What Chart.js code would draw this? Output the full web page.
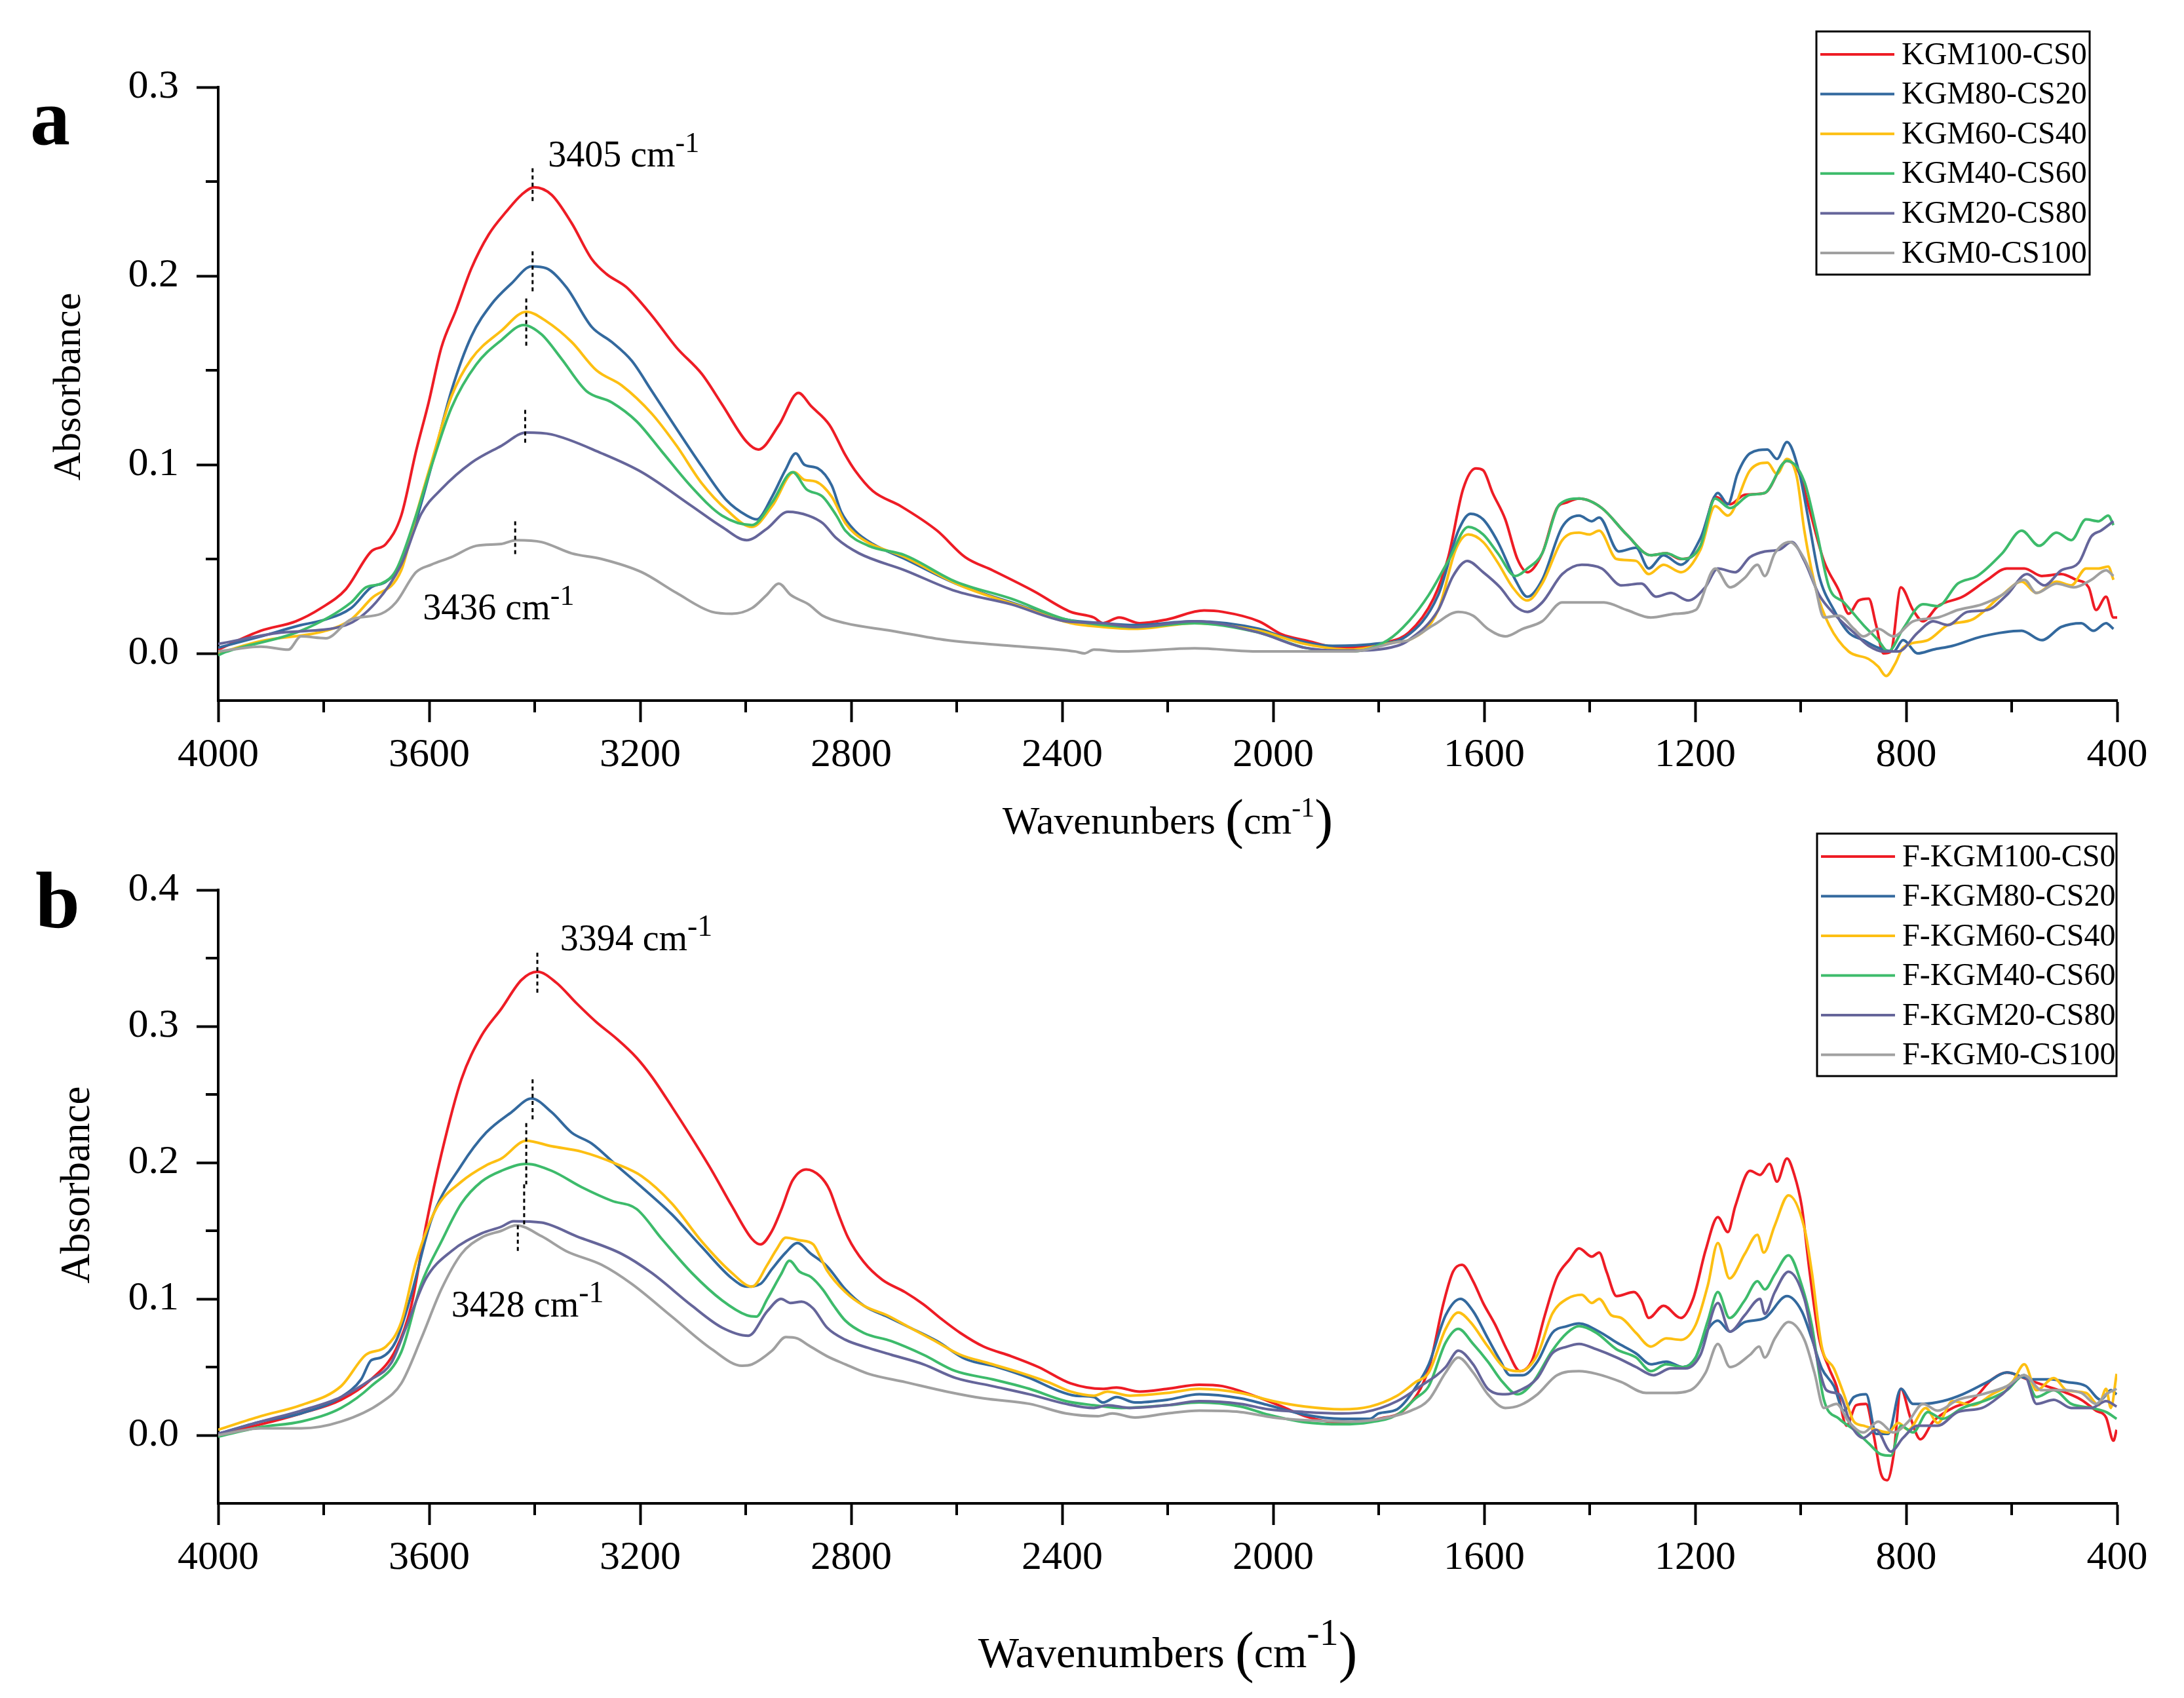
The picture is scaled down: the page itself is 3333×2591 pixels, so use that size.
<!DOCTYPE html>
<html><head><meta charset="utf-8">
<script src="https://cdn.jsdelivr.net/npm/chart.js@4.4.1/dist/chart.umd.min.js"></script>
<style>
html,body{margin:0;padding:0;background:#fff;}
#wrap{position:relative;width:3333px;height:2591px;background:#fff;}
canvas{position:absolute;left:0;}
</style></head><body>
<div id="wrap">
<canvas id="ca" width="3333" height="1295" style="top:0;width:3333px;height:1295px"></canvas>
<canvas id="cb" width="3333" height="1351" style="top:1240px;width:3333px;height:1351px"></canvas>
</div>
<script>
// ---------- DATA ----------
const namesA = ['KGM100-CS0','KGM80-CS20','KGM60-CS40','KGM40-CS60','KGM20-CS80','KGM0-CS100'];
const namesB = ['F-KGM100-CS0','F-KGM80-CS20','F-KGM60-CS40','F-KGM40-CS60','F-KGM20-CS80','F-KGM0-CS100'];
const seriesColors = ['#EE1C25','#33699E','#FDBF12','#3DBB6B','#65659A','#A0A0A0'];
const xTicks = [4000,3600,3200,2800,2400,2000,1600,1200,800,400];
const yTicksA = [0.0,0.1,0.2,0.3];
const yTicksB = [0.0,0.1,0.2,0.3,0.4];

// panel a  [wavenumber, absorbance]
const a_KGM100_CS0 = [[4000,0.002],[3919,0.012],[3853,0.017],[3805,0.024],[3758,0.034],[3710,0.054],[3682,0.058],[3653,0.073],[3625,0.107],[3601,0.133],[3577,0.162],[3549,0.182],[3520,0.204],[3487,0.222],[3454,0.234],[3425,0.243],[3401,0.247],[3368,0.243],[3330,0.228],[3292,0.209],[3264,0.201],[3226,0.194],[3178,0.179],[3131,0.162],[3083,0.148],[3045,0.132],[2998,0.112],[2976,0.108],[2937,0.121],[2900,0.138],[2876,0.131],[2841,0.121],[2811,0.105],[2793,0.097],[2759,0.086],[2706,0.078],[2637,0.065],[2584,0.051],[2532,0.044],[2454,0.033],[2384,0.022],[2340,0.019],[2323,0.016],[2292,0.019],[2253,0.016],[2201,0.018],[2131,0.0227],[2096,0.022],[2027,0.017],[1983,0.010],[1940,0.007],[1870,0.003],[1783,0.006],[1743,0.011],[1696,0.029],[1668,0.051],[1640,0.087],[1616,0.098],[1602,0.097],[1584,0.085],[1560,0.071],[1537,0.050],[1518,0.043],[1490,0.053],[1462,0.077],[1443,0.080],[1420,0.082],[1377,0.077],[1330,0.063],[1284,0.052],[1255,0.053],[1227,0.050],[1190,0.057],[1162,0.083],[1134,0.079],[1106,0.084],[1068,0.085],[1026,0.102],[1002,0.095],[984,0.077],[956,0.049],[927,0.033],[909,0.021],[890,0.028],[871,0.029],[857,0.015],[843,0.000],[829,0.001],[810,0.035],[787,0.023],[768,0.017],[740,0.025],[693,0.030],[646,0.039],[609,0.045],[576,0.045],[543,0.041],[506,0.042],[478,0.039],[454,0.035],[440,0.023],[421,0.030],[407,0.019],[400,0.019]];
const a_KGM80_CS20 = [[4000,0.003],[3919,0.009],[3843,0.015],[3796,0.018],[3748,0.024],[3710,0.035],[3682,0.038],[3653,0.047],[3625,0.070],[3596,0.099],[3558,0.139],[3520,0.168],[3482,0.185],[3444,0.196],[3406,0.205],[3378,0.204],[3340,0.194],[3292,0.173],[3254,0.165],[3216,0.155],[3178,0.139],[3131,0.119],[3083,0.099],[3036,0.081],[2998,0.073],[2979,0.071],[2950,0.083],[2925,0.097],[2905,0.106],[2889,0.100],[2863,0.098],[2837,0.089],[2819,0.075],[2793,0.065],[2759,0.058],[2698,0.050],[2602,0.037],[2497,0.027],[2393,0.018],[2323,0.016],[2262,0.015],[2149,0.017],[2027,0.013],[1983,0.009],[1887,0.004],[1809,0.005],[1748,0.009],[1687,0.031],[1649,0.065],[1626,0.074],[1602,0.071],[1574,0.059],[1541,0.039],[1518,0.030],[1490,0.039],[1452,0.067],[1420,0.073],[1396,0.070],[1382,0.072],[1345,0.054],[1312,0.056],[1288,0.045],[1260,0.052],[1227,0.047],[1190,0.061],[1157,0.085],[1138,0.079],[1120,0.095],[1096,0.106],[1063,0.108],[1045,0.103],[1026,0.112],[1002,0.095],[984,0.069],[965,0.041],[937,0.023],[909,0.011],[881,0.007],[853,0.003],[824,0.001],[806,0.007],[778,0.000],[749,0.002],[712,0.004],[656,0.009],[581,0.012],[543,0.007],[506,0.014],[468,0.016],[445,0.012],[421,0.016],[407,0.013]];
const a_KGM60_CS40 = [[4000,0.000],[3919,0.0065],[3796,0.012],[3748,0.018],[3710,0.029],[3653,0.044],[3625,0.073],[3596,0.101],[3558,0.136],[3520,0.156],[3463,0.171],[3416,0.181],[3378,0.176],[3330,0.165],[3283,0.150],[3235,0.142],[3178,0.127],[3131,0.110],[3083,0.090],[3036,0.076],[2988,0.067],[2950,0.078],[2908,0.096],[2889,0.092],[2867,0.091],[2837,0.083],[2811,0.069],[2776,0.060],[2698,0.051],[2593,0.036],[2480,0.025],[2384,0.016],[2323,0.014],[2262,0.013],[2149,0.016],[2027,0.012],[1940,0.005],[1852,0.002],[1765,0.006],[1743,0.007],[1687,0.023],[1654,0.055],[1630,0.063],[1602,0.059],[1574,0.048],[1546,0.035],[1518,0.028],[1490,0.037],[1452,0.060],[1420,0.064],[1401,0.063],[1382,0.065],[1349,0.050],[1312,0.049],[1288,0.042],[1260,0.047],[1227,0.043],[1190,0.055],[1162,0.078],[1138,0.073],[1096,0.097],[1063,0.101],[1045,0.095],[1026,0.103],[1007,0.093],[993,0.065],[970,0.033],[946,0.015],[909,0.001],[871,-0.003],[853,-0.007],[838,-0.012],[820,-0.005],[806,0.003],[759,0.007],[721,0.015],[674,0.018],[618,0.031],[581,0.038],[553,0.032],[515,0.038],[487,0.036],[459,0.045],[435,0.045],[417,0.046],[407,0.039]];
const a_KGM40_CS60 = [[4000,-0.001],[3986,0.0007],[3843,0.012],[3748,0.027],[3720,0.035],[3691,0.037],[3663,0.044],[3625,0.073],[3596,0.099],[3558,0.130],[3511,0.153],[3463,0.166],[3421,0.174],[3387,0.169],[3349,0.156],[3302,0.139],[3254,0.133],[3207,0.123],[3159,0.107],[3102,0.088],[3045,0.073],[2988,0.068],[2950,0.080],[2911,0.096],[2885,0.087],[2854,0.083],[2828,0.073],[2811,0.065],[2767,0.057],[2698,0.052],[2602,0.038],[2497,0.029],[2393,0.018],[2323,0.015],[2262,0.014],[2149,0.016],[2027,0.011],[1940,0.003],[1852,0.001],[1783,0.007],[1743,0.017],[1705,0.031],[1668,0.049],[1630,0.067],[1602,0.063],[1574,0.053],[1541,0.041],[1518,0.045],[1490,0.053],[1457,0.079],[1420,0.082],[1377,0.077],[1330,0.063],[1284,0.052],[1255,0.053],[1223,0.050],[1190,0.057],[1162,0.082],[1134,0.077],[1096,0.084],[1068,0.085],[1026,0.102],[993,0.091],[970,0.065],[946,0.035],[918,0.027],[881,0.015],[853,0.007],[834,0.001],[806,0.013],[768,0.026],[740,0.025],[702,0.037],[665,0.041],[618,0.053],[581,0.065],[548,0.057],[515,0.064],[487,0.060],[459,0.071],[435,0.070],[417,0.073],[407,0.068]];
const a_KGM20_CS80 = [[4000,0.005],[3881,0.011],[3758,0.015],[3701,0.027],[3653,0.047],[3615,0.074],[3577,0.087],[3520,0.101],[3463,0.110],[3416,0.117],[3368,0.116],[3273,0.106],[3197,0.096],[3102,0.078],[3045,0.067],[2998,0.060],[2960,0.066],[2920,0.075],[2881,0.073],[2854,0.069],[2828,0.061],[2785,0.053],[2698,0.044],[2602,0.033],[2497,0.026],[2393,0.017],[2323,0.016],[2262,0.014],[2149,0.017],[2027,0.011],[1940,0.003],[1852,0.0015],[1765,0.004],[1743,0.007],[1687,0.023],[1659,0.041],[1632,0.049],[1602,0.043],[1570,0.035],[1541,0.025],[1518,0.022],[1490,0.027],[1452,0.042],[1415,0.047],[1377,0.045],[1340,0.036],[1302,0.037],[1274,0.030],[1246,0.032],[1213,0.028],[1181,0.035],[1157,0.045],[1124,0.043],[1096,0.051],[1068,0.054],[1040,0.055],[1017,0.059],[993,0.049],[965,0.031],[937,0.021],[899,0.011],[871,0.004],[843,0.001],[815,0.001],[778,0.011],[749,0.017],[721,0.015],[684,0.022],[646,0.023],[609,0.031],[571,0.042],[538,0.036],[506,0.044],[473,0.048],[449,0.062],[431,0.065],[407,0.070]];
const a_KGM0_CS100 = [[4000,0.001],[3919,0.0036],[3867,0.002],[3843,0.009],[3796,0.008],[3748,0.018],[3691,0.021],[3663,0.027],[3625,0.043],[3596,0.047],[3558,0.051],[3511,0.057],[3463,0.058],[3435,0.060],[3387,0.059],[3330,0.053],[3273,0.050],[3197,0.043],[3131,0.032],[3064,0.022],[3026,0.021],[2988,0.024],[2960,0.031],[2937,0.037],[2915,0.031],[2881,0.026],[2854,0.020],[2811,0.016],[2724,0.012],[2619,0.007],[2497,0.004],[2375,0.001],[2358,0.000],[2340,0.002],[2288,0.001],[2149,0.0027],[2027,0.001],[1852,0.001],[1765,0.006],[1743,0.007],[1696,0.015],[1649,0.022],[1621,0.020],[1593,0.013],[1560,0.009],[1527,0.013],[1490,0.017],[1452,0.027],[1415,0.027],[1373,0.027],[1330,0.023],[1284,0.019],[1237,0.021],[1199,0.023],[1162,0.045],[1134,0.035],[1106,0.040],[1082,0.047],[1068,0.041],[1049,0.053],[1021,0.059],[993,0.050],[974,0.037],[956,0.019],[927,0.020],[899,0.013],[881,0.009],[853,0.013],[824,0.009],[787,0.017],[740,0.019],[702,0.023],[656,0.026],[618,0.031],[576,0.039],[553,0.032],[515,0.037],[482,0.035],[449,0.039],[421,0.044],[407,0.041]];

// panel b  [wavenumber, absorbance]
const b_KGM100_CS0 = [[4000,0.001],[3919,0.008],[3843,0.016],[3767,0.026],[3710,0.041],[3663,0.063],[3634,0.095],[3606,0.154],[3577,0.206],[3539,0.261],[3501,0.293],[3463,0.313],[3425,0.334],[3395,0.340],[3359,0.332],[3321,0.317],[3283,0.303],[3245,0.291],[3207,0.277],[3178,0.263],[3140,0.241],[3102,0.218],[3064,0.194],[3026,0.168],[2988,0.144],[2972,0.140],[2950,0.150],[2933,0.165],[2911,0.187],[2885,0.195],[2859,0.190],[2841,0.180],[2824,0.162],[2806,0.145],[2776,0.127],[2741,0.114],[2698,0.105],[2663,0.096],[2628,0.085],[2593,0.075],[2549,0.065],[2497,0.058],[2445,0.050],[2384,0.038],[2323,0.034],[2297,0.035],[2253,0.032],[2201,0.034],[2140,0.037],[2096,0.036],[2044,0.030],[1983,0.021],[1940,0.014],[1896,0.010],[1844,0.009],[1800,0.012],[1748,0.020],[1705,0.049],[1677,0.097],[1659,0.120],[1642,0.125],[1621,0.113],[1602,0.097],[1579,0.081],[1556,0.062],[1532,0.047],[1509,0.055],[1485,0.088],[1462,0.116],[1438,0.129],[1420,0.137],[1396,0.131],[1382,0.134],[1368,0.120],[1349,0.102],[1316,0.105],[1302,0.099],[1288,0.086],[1260,0.095],[1227,0.086],[1204,0.100],[1180,0.136],[1157,0.160],[1138,0.149],[1124,0.168],[1096,0.194],[1077,0.191],[1059,0.199],[1045,0.186],[1026,0.203],[1012,0.191],[998,0.168],[984,0.123],[965,0.071],[946,0.049],[932,0.036],[913,0.007],[895,0.022],[876,0.023],[862,0.001],[848,-0.028],[836,-0.033],[824,-0.015],[810,0.034],[792,0.013],[773,-0.003],[749,0.010],[712,0.020],[674,0.026],[637,0.041],[609,0.046],[571,0.041],[534,0.036],[496,0.031],[468,0.026],[440,0.018],[421,0.013],[407,-0.004],[401,0.004]];
const b_KGM80_CS20 = [[4000,0.001],[3919,0.010],[3843,0.016],[3767,0.028],[3729,0.041],[3710,0.055],[3691,0.057],[3663,0.069],[3634,0.103],[3596,0.158],[3539,0.198],[3492,0.222],[3444,0.237],[3406,0.247],[3368,0.237],[3330,0.222],[3292,0.214],[3245,0.198],[3197,0.182],[3140,0.162],[3083,0.138],[3026,0.115],[2998,0.109],[2972,0.111],[2950,0.122],[2924,0.134],[2902,0.141],[2876,0.133],[2846,0.124],[2811,0.107],[2776,0.095],[2732,0.087],[2689,0.079],[2637,0.069],[2584,0.056],[2523,0.050],[2462,0.042],[2410,0.033],[2375,0.029],[2340,0.028],[2323,0.024],[2297,0.028],[2262,0.024],[2201,0.026],[2140,0.030],[2062,0.027],[2009,0.022],[1940,0.015],[1870,0.012],[1817,0.012],[1800,0.016],[1765,0.019],[1730,0.035],[1705,0.052],[1673,0.088],[1645,0.100],[1621,0.091],[1593,0.071],[1570,0.055],[1551,0.044],[1527,0.044],[1499,0.054],[1471,0.075],[1443,0.080],[1420,0.082],[1382,0.076],[1349,0.068],[1312,0.060],[1284,0.052],[1255,0.054],[1223,0.050],[1199,0.057],[1180,0.075],[1157,0.084],[1134,0.076],[1106,0.083],[1068,0.086],[1026,0.102],[998,0.091],[979,0.071],[960,0.049],[937,0.036],[918,0.018],[899,0.028],[876,0.030],[857,0.001],[834,0.001],[810,0.034],[787,0.023],[768,0.023],[731,0.025],[693,0.030],[646,0.039],[609,0.046],[562,0.041],[524,0.041],[496,0.039],[459,0.036],[431,0.026],[412,0.033],[401,0.030]];
const b_KGM60_CS40 = [[4000,0.004],[3919,0.014],[3843,0.022],[3767,0.036],[3720,0.059],[3682,0.065],[3653,0.083],[3625,0.127],[3587,0.166],[3539,0.186],[3492,0.198],[3463,0.203],[3416,0.216],[3368,0.212],[3311,0.208],[3245,0.199],[3197,0.190],[3140,0.170],[3083,0.142],[3026,0.119],[2988,0.109],[2959,0.125],[2942,0.136],[2924,0.145],[2898,0.143],[2872,0.140],[2859,0.131],[2846,0.121],[2811,0.105],[2776,0.095],[2732,0.088],[2689,0.079],[2645,0.070],[2593,0.059],[2541,0.053],[2480,0.046],[2427,0.039],[2384,0.032],[2340,0.029],[2314,0.032],[2271,0.029],[2201,0.031],[2140,0.034],[2062,0.031],[2000,0.025],[1940,0.021],[1870,0.019],[1817,0.021],[1765,0.029],[1730,0.039],[1705,0.046],[1673,0.078],[1649,0.090],[1626,0.083],[1593,0.065],[1560,0.049],[1532,0.047],[1499,0.059],[1471,0.089],[1443,0.100],[1415,0.103],[1396,0.097],[1382,0.100],[1359,0.088],[1340,0.086],[1312,0.075],[1284,0.065],[1255,0.071],[1227,0.070],[1199,0.081],[1176,0.110],[1157,0.141],[1135,0.115],[1106,0.133],[1082,0.147],[1070,0.134],[1049,0.154],[1023,0.176],[993,0.152],[979,0.120],[960,0.065],[937,0.049],[918,0.030],[899,0.010],[881,0.007],[857,0.004],[834,0.002],[815,0.009],[796,0.004],[763,0.020],[740,0.009],[712,0.025],[674,0.022],[637,0.030],[599,0.039],[576,0.052],[553,0.033],[520,0.042],[496,0.033],[459,0.031],[435,0.022],[421,0.034],[412,0.020],[401,0.045]];
const b_KGM40_CS60 = [[4000,-0.001],[3919,0.006],[3843,0.010],[3767,0.020],[3710,0.036],[3653,0.061],[3615,0.111],[3577,0.142],[3539,0.170],[3501,0.186],[3463,0.194],[3416,0.199],[3368,0.194],[3311,0.182],[3254,0.172],[3207,0.166],[3159,0.144],[3102,0.119],[3045,0.099],[2998,0.088],[2980,0.087],[2959,0.100],[2933,0.118],[2917,0.128],[2898,0.120],[2876,0.116],[2854,0.107],[2833,0.095],[2811,0.084],[2776,0.075],[2724,0.069],[2663,0.059],[2602,0.047],[2532,0.041],[2462,0.034],[2393,0.025],[2340,0.022],[2288,0.020],[2201,0.022],[2140,0.024],[2062,0.021],[2009,0.015],[1940,0.0095],[1870,0.008],[1817,0.0095],[1765,0.015],[1730,0.027],[1705,0.036],[1673,0.068],[1649,0.078],[1621,0.067],[1593,0.054],[1565,0.039],[1537,0.030],[1509,0.038],[1471,0.062],[1443,0.075],[1420,0.080],[1387,0.075],[1349,0.063],[1312,0.057],[1284,0.047],[1255,0.052],[1223,0.050],[1199,0.057],[1176,0.084],[1157,0.105],[1135,0.086],[1106,0.099],[1082,0.113],[1068,0.107],[1049,0.118],[1023,0.132],[998,0.110],[979,0.081],[956,0.026],[927,0.012],[899,0.004],[871,-0.006],[848,-0.014],[829,-0.015],[810,0.007],[787,0.002],[759,0.017],[731,0.012],[693,0.020],[646,0.026],[609,0.033],[576,0.044],[553,0.028],[520,0.033],[487,0.023],[449,0.020],[421,0.017],[401,0.012]];
const b_KGM20_CS80 = [[4000,0.001],[3919,0.010],[3843,0.018],[3767,0.028],[3710,0.041],[3672,0.053],[3644,0.079],[3606,0.115],[3558,0.135],[3501,0.148],[3463,0.153],[3440,0.157],[3387,0.156],[3321,0.146],[3235,0.133],[3178,0.119],[3102,0.095],[3045,0.079],[2995,0.073],[2959,0.091],[2933,0.100],[2915,0.097],[2894,0.098],[2872,0.093],[2846,0.079],[2811,0.070],[2767,0.064],[2724,0.059],[2663,0.052],[2602,0.042],[2532,0.036],[2462,0.030],[2393,0.023],[2340,0.020],[2314,0.022],[2271,0.020],[2201,0.022],[2140,0.025],[2062,0.023],[2009,0.019],[1940,0.017],[1870,0.016],[1826,0.017],[1765,0.025],[1713,0.038],[1690,0.044],[1673,0.050],[1649,0.062],[1621,0.052],[1593,0.034],[1560,0.030],[1532,0.033],[1499,0.042],[1471,0.060],[1443,0.065],[1420,0.067],[1387,0.063],[1349,0.057],[1312,0.050],[1279,0.044],[1246,0.049],[1218,0.049],[1190,0.059],[1157,0.097],[1134,0.076],[1106,0.088],[1077,0.100],[1068,0.089],[1049,0.105],[1023,0.120],[993,0.100],[974,0.065],[951,0.033],[927,0.030],[904,0.007],[881,-0.002],[857,0.004],[829,-0.012],[806,-0.002],[778,0.007],[740,0.007],[702,0.017],[656,0.020],[618,0.030],[576,0.044],[553,0.023],[520,0.026],[487,0.020],[449,0.020],[421,0.025],[401,0.021]];
const b_KGM0_CS100 = [[4000,0.000],[3919,0.005],[3843,0.005],[3767,0.010],[3691,0.024],[3653,0.038],[3615,0.071],[3577,0.107],[3539,0.133],[3501,0.145],[3463,0.150],[3435,0.154],[3387,0.146],[3340,0.135],[3273,0.125],[3216,0.111],[3140,0.087],[3064,0.063],[3007,0.051],[2988,0.052],[2950,0.062],[2924,0.072],[2902,0.071],[2881,0.066],[2846,0.058],[2811,0.052],[2767,0.045],[2698,0.039],[2619,0.032],[2549,0.027],[2462,0.023],[2393,0.016],[2332,0.014],[2305,0.016],[2262,0.013],[2201,0.016],[2140,0.018],[2062,0.017],[2000,0.013],[1940,0.011],[1852,0.010],[1783,0.013],[1739,0.018],[1705,0.026],[1673,0.046],[1649,0.057],[1621,0.046],[1593,0.030],[1560,0.020],[1532,0.022],[1499,0.030],[1462,0.044],[1420,0.047],[1387,0.045],[1340,0.039],[1293,0.031],[1246,0.031],[1209,0.033],[1180,0.046],[1157,0.067],[1134,0.050],[1096,0.059],[1079,0.065],[1068,0.057],[1049,0.071],[1023,0.083],[993,0.070],[974,0.046],[956,0.020],[932,0.023],[909,0.010],[881,0.002],[853,0.010],[824,0.002],[796,0.010],[768,0.023],[740,0.018],[702,0.026],[656,0.030],[609,0.036],[576,0.044],[543,0.033],[506,0.033],[468,0.031],[440,0.023],[421,0.030],[401,0.034]];

const seriesA = [a_KGM100_CS0,a_KGM80_CS20,a_KGM60_CS40,a_KGM40_CS60,a_KGM20_CS80,a_KGM0_CS100];
const seriesB = [b_KGM100_CS0,b_KGM80_CS20,b_KGM60_CS40,b_KGM40_CS60,b_KGM20_CS80,b_KGM0_CS100];

// peak annotations: [wavenumber, y from, y to]
const peakMarksA = [[3404,0.257,0.238],[3404,0.213,0.191],[3416,0.188,0.162],[3418,0.129,0.110],[3437,0.070,0.052]];
const peakMarksB = [[3395,0.354,0.323],[3404,0.261,0.231],[3416,0.229,0.184],[3420,0.184,0.154],[3432,0.154,0.135]];
const peakLabelsA = [['3405 cm','-1',3375,0.258],['3436 cm','-1',3612,0.018]];
const peakLabelsB = [['3394 cm','-1',3352,0.356],['3428 cm','-1',3558,0.087]];

// ---------- RENDER ----------
const FONT = '"Liberation Serif", "Times New Roman", serif';

function drawRuns(ctx, runs, x, baseline, align) {
  let total = 0;
  runs.forEach(r => { ctx.font = (r.bold?'bold ':'') + r.size + 'px ' + FONT; r.w = ctx.measureText(r.t).width; total += r.w; });
  let cx = align === 'center' ? x - total/2 : x;
  ctx.textAlign = 'left'; ctx.textBaseline = 'alphabetic';
  runs.forEach(r => { ctx.font = (r.bold?'bold ':'') + r.size + 'px ' + FONT; ctx.fillText(r.t, cx, baseline - (r.raise||0)); cx += r.w; });
}

function makeChart(id, spec) {
  const datasets = spec.series.map((s, i) => ({
    label: spec.names[i],
    data: s.map(p => ({x: p[0], y: p[1]})),
    borderColor: seriesColors[i],
    borderWidth: 4,
    pointRadius: 0,
    fill: false,
    cubicInterpolationMode: 'monotone',
    order: 5 - i
  }));
  const deco = {
    id: 'deco_' + id,
    afterDraw(chart) {
      const ctx = chart.ctx, xs = chart.scales.x, ys = chart.scales.y, ca = chart.chartArea;
      ctx.save();
      ctx.fillStyle = '#000'; ctx.strokeStyle = '#000';
      // minor ticks
      ctx.lineWidth = 4;
      ctx.beginPath();
      for (let w = 600; w < 4000; w += 400) { const px = xs.getPixelForValue(w); ctx.moveTo(px, ca.bottom); ctx.lineTo(px, ca.bottom + 18); }
      spec.yMinor.forEach(v => { const py = ys.getPixelForValue(v); ctx.moveTo(ca.left, py); ctx.lineTo(ca.left - 19, py); });
      ctx.stroke();
      // panel letter
      drawRuns(ctx, [{t: spec.letter, size: 122, bold: true}], spec.letterPos[0], spec.letterPos[1], 'left');
      // y title
      ctx.save();
      ctx.translate(spec.yTitle[0], spec.yTitle[1]);
      ctx.rotate(-Math.PI/2);
      ctx.font = spec.yTitle[2] + 'px ' + FONT; ctx.textAlign = 'center'; ctx.textBaseline = 'alphabetic';
      ctx.fillText('Absorbance', 0, 0);
      ctx.restore();
      // x title
      const xt = spec.xTitle;
      drawRuns(ctx, [
        {t: xt.text + ' ', size: xt.size},
        {t: '(', size: xt.paren, raise: -6},
        {t: 'cm', size: xt.size},
        {t: '-1', size: xt.sup, raise: xt.raise},
        {t: ')', size: xt.paren, raise: -6}
      ], (ca.left + ca.right)/2, ca.bottom + xt.dy, 'center');
      // peak markers
      ctx.lineWidth = 3; ctx.setLineDash([6, 5]);
      ctx.beginPath();
      spec.marks.forEach(m => { const px = xs.getPixelForValue(m[0]); ctx.moveTo(px, ys.getPixelForValue(m[1])); ctx.lineTo(px, ys.getPixelForValue(m[2])); });
      ctx.stroke();
      ctx.setLineDash([]);
      spec.labels.forEach(l => {
        drawRuns(ctx, [{t: l[0], size: 56}, {t: l[1], size: spec.annSup, raise: 22}], xs.getPixelForValue(l[2]), ys.getPixelForValue(l[3]), 'left');
      });
      // legend
      const L = spec.legend;
      ctx.lineWidth = 3;
      ctx.strokeRect(L.x, L.y, L.w, L.h);
      spec.names.forEach((n, i) => {
        const yy = L.row0 + i * L.step;
        ctx.strokeStyle = seriesColors[i]; ctx.lineWidth = 4;
        ctx.beginPath(); ctx.moveTo(L.x + 6, yy); ctx.lineTo(L.x + 119, yy); ctx.stroke();
        ctx.fillStyle = '#000';
        ctx.font = '48px ' + FONT; ctx.textAlign = 'left'; ctx.textBaseline = 'middle';
        ctx.fillText(n, L.x + 130, yy + 2);
      });
      ctx.restore();
    }
  };
  return new Chart(document.getElementById(id), {
    type: 'line',
    data: {datasets},
    options: {
      responsive: false, animation: false, devicePixelRatio: 1,
      layout: {padding: {left: 0, right: 102, top: spec.padTop, bottom: 0}},
      plugins: {legend: {display: false}, tooltip: {enabled: false}, title: {display: false}},
      elements: {line: {tension: 0.4}},
      scales: {
        x: {
          type: 'linear', reverse: true, min: 400, max: 4000,
          afterBuildTicks: s => { s.ticks = xTicks.map(v => ({value: v})); },
          afterFit: s => { s.height = spec.xHeight; },
          ticks: {autoSkip: false, maxRotation: 0, padding: 14, color: '#000', font: {family: FONT, size: 62}, callback: v => String(v)},
          grid: {drawOnChartArea: false, drawTicks: true, tickLength: 33, tickWidth: 4, tickColor: '#000'},
          border: {display: true, color: '#000', width: 4}
        },
        y: {
          type: 'linear', min: spec.yMin, max: spec.yMax,
          afterBuildTicks: s => { s.ticks = spec.yTicks.map(v => ({value: v})); },
          afterFit: s => { s.width = 333; },
          ticks: {padding: 27, color: '#000', font: {family: FONT, size: 62}, callback: v => Number(v).toFixed(1)},
          grid: {drawOnChartArea: false, drawTicks: true, tickLength: 33, tickWidth: 4, tickColor: '#000'},
          border: {display: true, color: '#000', width: 4}
        }
      }
    },
    plugins: [deco]
  });
}

makeChart('ca', {
  series: seriesA, names: namesA, yMin: -0.025, yMax: 0.3, yTicks: yTicksA, yMinor: [0.05, 0.15, 0.25],
  padTop: 133, xHeight: 226,
  letter: 'a', letterPos: [46, 220],
  yTitle: [122, 590, 60],
  xTitle: {text: 'Wavenunbers', size: 60, paren: 84, sup: 42, raise: 26, dy: 203},
  marks: peakMarksA, labels: peakLabelsA, annSup: 44,
  legend: {x: 2772, y: 48, w: 417, h: 371, row0: 83, step: 60.6}
});
makeChart('cb', {
  series: seriesB, names: namesB, yMin: -0.05, yMax: 0.4, yTicks: yTicksB, yMinor: [0.05, 0.15, 0.25, 0.35],
  padTop: 118, xHeight: 297,
  letter: 'b', letterPos: [54, 175],
  yTitle: [136, 568, 63],
  xTitle: {text: 'Wavenumbers', size: 66, paren: 86, sup: 58, raise: 34, dy: 250},
  marks: peakMarksB, labels: peakLabelsB, annSup: 46,
  legend: {x: 2773, y: 32, w: 457, h: 370, row0: 67, step: 60.5}
});
</script>
</body></html>
